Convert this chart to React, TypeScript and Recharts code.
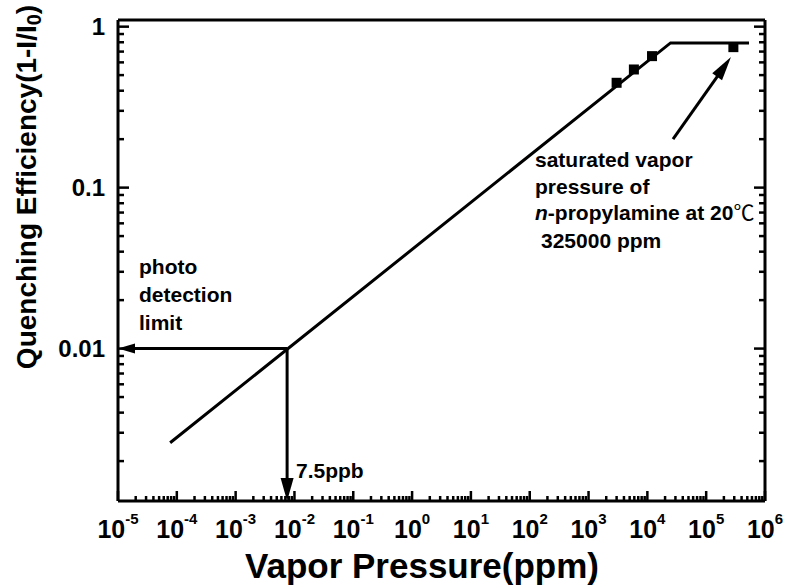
import {
  ComposedChart,
  Line,
  Scatter,
  XAxis,
  YAxis,
  ReferenceLine,
  Customized,
} from "recharts";

const FONT = '"Liberation Sans", Arial, sans-serif';

// fitted response line
const fitX = [7.7e-5, 2.48e4, 5.35e5];
const fitY = [0.0026, 0.793, 0.793];

// measured points
const measX = [3.0e3, 5.9e3, 1.2e4, 2.9e5];
const measY = [0.448, 0.542, 0.656, 0.746];

// axes
const xDomain = [1e-5, 1e6];
const yDomain = [0.00113, 1.1];
const xExponents = ["-5", "-4", "-3", "-2", "-1", "0", "1", "2", "3", "4", "5", "6"];
const yMajorTicks = [0.01, 0.1, 1];
const yMajorLabels = ["0.01", "0.1", "1"];

// detection limit + saturation annotations
const detectX = 7.5e-3;
const detectY = 0.01;
const satArrowFrom = { x: 2.73e4, y: 0.2 };
const satArrowTo = { x: 2.64e5, y: 0.647 };
const limitText = ["photo", "detection", "limit"];
const satText = ["saturated vapor", "pressure of"];

const fitData = fitX.map((x, i) => ({ x, y: fitY[i] }));
const measData = measX.map((x, i) => ({ x, y: measY[i] }));

// minor + major tick positions for the log axes
const xTicks: number[] = [];
for (let e = -5; e <= 6; e++) {
  for (let m = 1; m <= 9; m++) {
    const v = m * Math.pow(10, e);
    if (v <= xDomain[1] * 1.0001) xTicks.push(v);
  }
}
const yTicks: number[] = [];
for (let e = -3; e <= 0; e++) {
  for (let m = 1; m <= 9; m++) {
    const v = m * Math.pow(10, e);
    if (v >= yDomain[0] && v <= yDomain[1]) yTicks.push(v);
  }
}

const isMajor = (v: number) => {
  const lg = Math.log10(v);
  return Math.abs(lg - Math.round(lg)) < 1e-6;
};

const XTick = (props: any) => {
  const { x, y, payload } = props;
  const v = payload.value;
  const major = isMajor(v);
  const len = major ? 10 : 5;
  return (
    <g>
      <path d={`M${x},${y}L${x},${y - len}`} stroke="#000" strokeWidth={2.5} fill="none" />
      {major ? (
        <text x={x} y={y + 37} textAnchor="middle" fontFamily={FONT} fontWeight="bold" fontSize={25} fill="#000">
          <tspan>10</tspan>
          <tspan dy={-14} fontSize={15}>{xExponents[Math.round(Math.log10(v)) + 5]}</tspan>
        </text>
      ) : null}
    </g>
  );
};

const YTickLeft = (props: any) => {
  const { x, y, payload } = props;
  const v = payload.value;
  const len = isMajor(v) ? 11 : 6;
  const idx = yMajorTicks.findIndex((t) => Math.abs(t - v) < t * 1e-6);
  return (
    <g>
      <path d={`M${x},${y}L${x + len},${y}`} stroke="#000" strokeWidth={2.5} fill="none" />
      {idx >= 0 ? (
        <text x={x - 13} y={y + 8.5} textAnchor="end" fontFamily={FONT} fontWeight="bold" fontSize={24} fill="#000">
          {yMajorLabels[idx]}
        </text>
      ) : null}
    </g>
  );
};

const YTickRight = (props: any) => {
  const { x, y, payload } = props;
  const len = isMajor(payload.value) ? 11 : 6;
  return <path d={`M${x},${y}L${x - len},${y}`} stroke="#000" strokeWidth={2.5} fill="none" />;
};

const Square = (props: any) => {
  const { cx, cy } = props;
  return <rect x={cx - 5} y={cy - 5} width={10} height={10} fill="#000" />;
};

const arrow = (head: number, half: number) => (p: any) => {
  const { x1, y1, x2, y2 } = p;
  const dx = x2 - x1;
  const dy = y2 - y1;
  const len = Math.hypot(dx, dy) || 1;
  const ux = dx / len;
  const uy = dy / len;
  const bx = x2 - ux * head;
  const by = y2 - uy * head;
  const pts = `${x2},${y2} ${bx - uy * half},${by + ux * half} ${bx + uy * half},${by - ux * half}`;
  return (
    <g>
      <line x1={x1} y1={y1} x2={bx + ux * 2} y2={by + uy * 2} stroke="#000" strokeWidth={3} />
      <polygon points={pts} fill="#000" />
    </g>
  );
};

const Notes = () => (
  <g fontFamily={FONT} fontWeight="bold" fontSize={21} fill="#000">
    {limitText.map((t, i) => (
      <text key={t} x={139} y={274 + i * 28}>{t}</text>
    ))}
    <text x={296} y={478}>7.5ppb</text>
    {satText.map((t, i) => (
      <text key={t} x={535} y={167 + i * 26.5}>{t}</text>
    ))}
    <text x={535} y={220}>
      <tspan fontStyle="italic">n</tspan>
      <tspan>-propylamine at 20</tspan>
      <tspan fontFamily='"Noto Sans CJK SC", serif' fontWeight="normal">℃</tspan>
    </text>
    <text x={541} y={248}>325000 ppm</text>
    <text x={422} y={578} textAnchor="middle" fontSize={35}>Vapor Pressure(ppm)</text>
    <text transform="translate(36,187) rotate(-90)" textAnchor="middle" fontSize={28}>
      <tspan>Quenching Efficiency(1-I/I</tspan>
      <tspan dy={5} fontSize={20}>0</tspan>
      <tspan dy={-5}>)</tspan>
    </text>
  </g>
);

export default function App() {
  return (
    <div style={{ position: "absolute", left: 0, top: 0, background: "#fff" }}>
      <ComposedChart width={785} height={588} margin={{ top: 20, right: 0, bottom: 0, left: 0 }}>
        <XAxis
          dataKey="x"
          type="number"
          scale="log"
          domain={xDomain}
          allowDataOverflow
          ticks={xTicks}
          interval={0}
          height={87}
          tickSize={0}
          tickMargin={0}
          tickLine={false}
          tick={<XTick />}
          axisLine={{ stroke: "#000", strokeWidth: 3 }}
        />
        <YAxis
          dataKey="y"
          type="number"
          scale="log"
          domain={yDomain}
          allowDataOverflow
          ticks={yTicks}
          interval={0}
          width={118}
          tickSize={0}
          tickMargin={0}
          tickLine={false}
          tick={<YTickLeft />}
          axisLine={{ stroke: "#000", strokeWidth: 3 }}
        />
        <YAxis
          yAxisId="right"
          orientation="right"
          type="number"
          scale="log"
          domain={yDomain}
          allowDataOverflow
          ticks={yTicks}
          interval={0}
          width={20}
          tickSize={0}
          tickMargin={0}
          tickLine={false}
          tick={<YTickRight />}
          axisLine={{ stroke: "#000", strokeWidth: 3 }}
        />
        <ReferenceLine y={yDomain[1]} stroke="#000" strokeWidth={3} ifOverflow="visible" />
        <Line
          data={fitData}
          dataKey="y"
          type="linear"
          stroke="#000"
          strokeWidth={3}
          dot={false}
          isAnimationActive={false}
        />
        <Scatter data={measData} dataKey="y" fill="#000" shape={<Square />} isAnimationActive={false} />
        <ReferenceLine
          segment={[{ x: detectX, y: detectY }, { x: xDomain[0], y: detectY }]}
          ifOverflow="visible"
          shape={arrow(17, 5)}
        />
        <ReferenceLine
          segment={[{ x: detectX, y: detectY }, { x: detectX, y: yDomain[0] }]}
          ifOverflow="visible"
          shape={arrow(23, 6.5)}
        />
        <ReferenceLine
          segment={[satArrowFrom, satArrowTo]}
          ifOverflow="visible"
          shape={arrow(24, 6)}
        />
        <Customized component={<Notes />} />
      </ComposedChart>
    </div>
  );
}
